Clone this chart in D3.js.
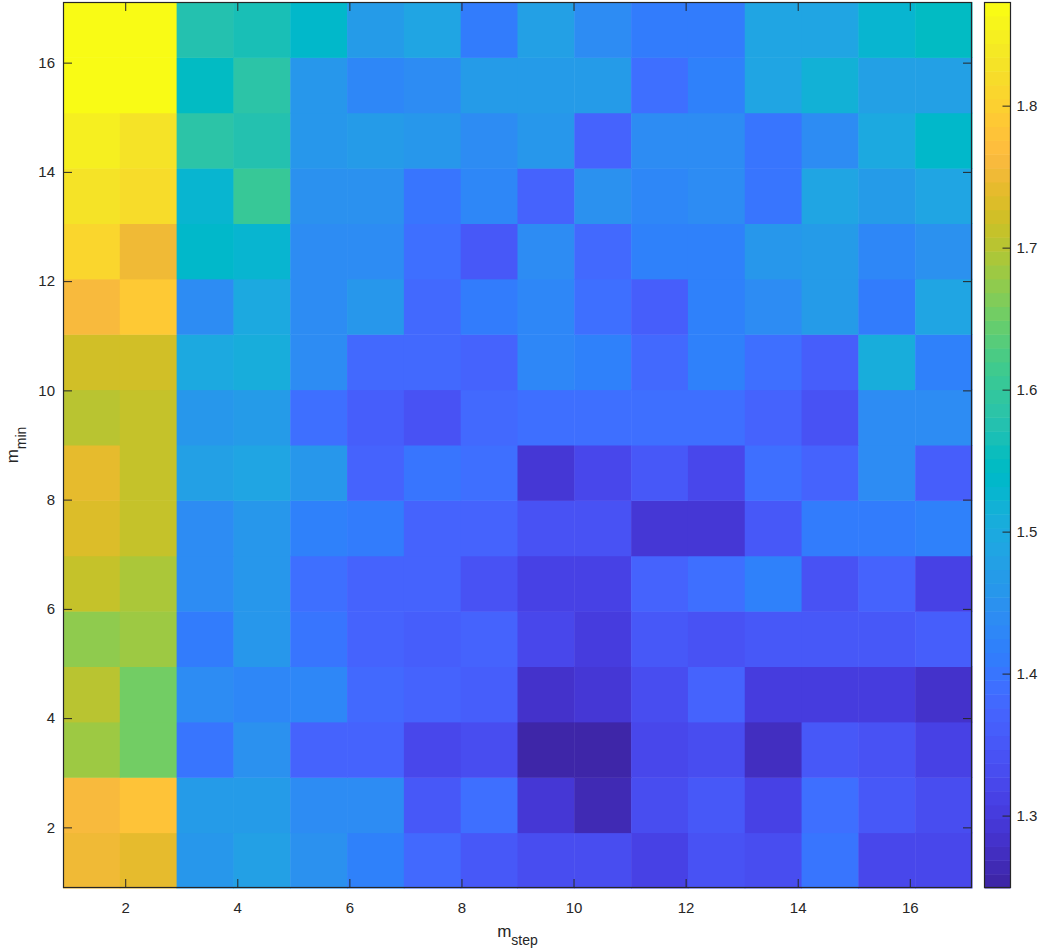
<!DOCTYPE html>
<html>
<head>
<meta charset="utf-8">
<script src="https://cdn.jsdelivr.net/npm/d3@7"></script>
<style>
  body { margin: 0; background: #fff; }
  svg text { font-family: "Liberation Sans", Arial, sans-serif; fill: #262626; }
</style>
</head>
<body>
<svg id="chart" width="1044" height="950"></svg>
<script>
// categories
const mStep = [1, 2, 3, 4, 5, 6, 7, 8, 9, 10, 11, 12, 13, 14, 15, 16];
const mMin = [1, 2, 3, 4, 5, 6, 7, 8, 9, 10, 11, 12, 13, 14, 15, 16];

// one row per m_min (bottom row first), one value per m_step
const values = [
  [1.751, 1.741, 1.459, 1.478, 1.449, 1.420, 1.381, 1.351, 1.332, 1.332, 1.312, 1.342, 1.332, 1.400, 1.322, 1.322],
  [1.761, 1.780, 1.468, 1.468, 1.439, 1.439, 1.351, 1.390, 1.293, 1.264, 1.332, 1.351, 1.312, 1.390, 1.351, 1.332],
  [1.683, 1.654, 1.400, 1.449, 1.371, 1.371, 1.322, 1.332, 1.254, 1.249, 1.322, 1.332, 1.273, 1.351, 1.342, 1.312],
  [1.702, 1.654, 1.439, 1.429, 1.429, 1.381, 1.371, 1.361, 1.283, 1.293, 1.332, 1.371, 1.303, 1.303, 1.303, 1.283],
  [1.673, 1.683, 1.410, 1.459, 1.400, 1.371, 1.361, 1.371, 1.322, 1.303, 1.351, 1.342, 1.351, 1.351, 1.351, 1.361],
  [1.712, 1.693, 1.439, 1.459, 1.390, 1.371, 1.371, 1.342, 1.312, 1.312, 1.371, 1.390, 1.420, 1.342, 1.371, 1.312],
  [1.732, 1.712, 1.439, 1.459, 1.420, 1.410, 1.371, 1.371, 1.342, 1.342, 1.293, 1.293, 1.351, 1.410, 1.410, 1.420],
  [1.741, 1.712, 1.478, 1.488, 1.459, 1.371, 1.400, 1.390, 1.293, 1.322, 1.351, 1.322, 1.390, 1.371, 1.439, 1.361],
  [1.702, 1.712, 1.459, 1.468, 1.390, 1.361, 1.342, 1.381, 1.390, 1.390, 1.390, 1.390, 1.371, 1.342, 1.439, 1.439],
  [1.722, 1.722, 1.498, 1.507, 1.439, 1.381, 1.381, 1.371, 1.429, 1.420, 1.381, 1.420, 1.390, 1.361, 1.507, 1.420],
  [1.761, 1.790, 1.439, 1.498, 1.439, 1.459, 1.381, 1.410, 1.429, 1.390, 1.361, 1.420, 1.439, 1.468, 1.410, 1.488],
  [1.810, 1.751, 1.537, 1.527, 1.439, 1.439, 1.390, 1.351, 1.439, 1.381, 1.420, 1.420, 1.459, 1.468, 1.429, 1.449],
  [1.829, 1.819, 1.527, 1.605, 1.449, 1.449, 1.400, 1.429, 1.371, 1.449, 1.429, 1.439, 1.400, 1.488, 1.468, 1.488],
  [1.849, 1.829, 1.585, 1.576, 1.459, 1.468, 1.459, 1.439, 1.459, 1.371, 1.439, 1.439, 1.400, 1.439, 1.498, 1.537],
  [1.868, 1.868, 1.546, 1.585, 1.459, 1.429, 1.439, 1.468, 1.468, 1.468, 1.390, 1.420, 1.488, 1.517, 1.478, 1.478],
  [1.873, 1.868, 1.576, 1.566, 1.537, 1.468, 1.488, 1.410, 1.478, 1.439, 1.410, 1.410, 1.488, 1.488, 1.527, 1.546]
];

// tick labels
const xTicks = [2, 4, 6, 8, 10, 12, 14, 16];
const yTicks = [2, 4, 6, 8, 10, 12, 14, 16];
const colorTicks = [1.3, 1.4, 1.5, 1.6, 1.7, 1.8];

// parula, 64 levels
const parula = [
  "#3e26a8","#402ab4","#422ec0","#4432cb","#4537d5","#463cde","#4741e5","#4847eb",
  "#484df0","#4852f4","#4758f8","#465efb","#4563fd","#4269fe","#3e6fff","#3875fe",
  "#327cfc","#2f81fa","#2e87f7","#2d8cf3","#2b91ef","#2797eb","#259be8","#23a0e5",
  "#20a5e3","#1ca9e0","#18addb","#12b1d6","#08b5d0","#01b8ca","#02bbc3","#0bbdbd",
  "#19bfb6","#24c1af","#2cc4a7","#31c69f","#37c897","#3fca8e","#4acb84","#57cc7a",
  "#64cd6f","#72cd64","#81cc59","#8fcb4e","#9dc943","#abc739","#b9c431","#c5c22a",
  "#d1bf27","#dcbd29","#e6bb2d","#f0ba36","#f8ba3d","#febe3d","#fec338","#fec934",
  "#fcd030","#fad62d","#f7dc2a","#f5e327","#f5e924","#f6ef20","#f7f51b","#f9fb15"
];

const svg = d3.select("#chart");
const plotLeft = 63, plotRight = 972, plotTop = 2, plotBottom = 888;
const ink = "#262626";

// cells: one band per category
const xBand = d3.scaleBand().domain(mStep).range([plotLeft, plotRight]);
const yBand = d3.scaleBand().domain(mMin).range([plotBottom, plotTop]);
// axis coordinates of the image extent
const x = d3.scaleLinear().domain([0.89, 17.11]).range([plotLeft, plotRight]);
const y = d3.scaleLinear().domain([0.89, 17.11]).range([plotBottom, plotTop]);

const clim = d3.extent(values.flat());
const color = d3.scaleQuantize().domain(clim).range(parula);

const cells = [];
values.forEach((row, i) => row.forEach((v, j) => cells.push({s: mStep[j], m: mMin[i], v})));

svg.append("g").selectAll("rect")
  .data(cells)
  .join("rect")
  .attr("x", d => xBand(d.s))
  .attr("y", d => yBand(d.m))
  .attr("width", xBand.bandwidth() + 0.5)
  .attr("height", yBand.bandwidth() + 0.5)
  .attr("fill", d => color(d.v));

function styleAxis(g) {
  g.select(".domain").remove();
  g.selectAll(".tick line").attr("stroke", ink);
  g.selectAll(".tick text").attr("fill", ink).style("font-size", "15px");
}

svg.append("g")
  .attr("transform", `translate(0,${plotBottom})`)
  .call(d3.axisBottom(x).tickValues(xTicks).tickSizeInner(-9).tickSizeOuter(0).tickPadding(14))
  .call(styleAxis);
svg.append("g")
  .attr("transform", `translate(0,${plotTop})`)
  .call(d3.axisTop(x).tickValues(xTicks).tickFormat("").tickSizeInner(-9).tickSizeOuter(0))
  .call(styleAxis);
svg.append("g")
  .attr("transform", `translate(${plotLeft},0)`)
  .call(d3.axisLeft(y).tickValues(yTicks).tickSizeInner(-9).tickSizeOuter(0).tickPadding(8))
  .call(styleAxis);
svg.append("g")
  .attr("transform", `translate(${plotRight},0)`)
  .call(d3.axisRight(y).tickValues(yTicks).tickFormat("").tickSizeInner(-9).tickSizeOuter(0))
  .call(styleAxis);

svg.append("rect")
  .attr("x", plotLeft + 0.5).attr("y", plotTop + 0.5)
  .attr("width", plotRight - plotLeft - 1).attr("height", plotBottom - plotTop - 1)
  .attr("fill", "none").attr("stroke", ink).attr("stroke-width", 1.2);

// axis labels
const xl = svg.append("text")
  .attr("x", (plotLeft + plotRight) / 2).attr("y", 937)
  .attr("text-anchor", "middle").style("font-size", "17px");
xl.append("tspan").text("m");
xl.append("tspan").attr("dy", 8).style("font-size", "14px").text("step");

const yl = svg.append("text")
  .attr("transform", `translate(18,${(plotTop + plotBottom) / 2}) rotate(-90)`)
  .attr("text-anchor", "middle").style("font-size", "17px");
yl.append("tspan").text("m");
yl.append("tspan").attr("dy", 8).style("font-size", "14px").text("min");

// colorbar
const cbLeft = 984.5, cbWidth = 26;
const cy = d3.scaleLinear().domain(clim).range([plotBottom, plotTop]);

svg.append("g").selectAll("rect")
  .data(parula)
  .join("rect")
  .attr("x", cbLeft)
  .attr("y", c => cy(color.invertExtent(c)[1]))
  .attr("width", cbWidth)
  .attr("height", c => cy(color.invertExtent(c)[0]) - cy(color.invertExtent(c)[1]) + 0.5)
  .attr("fill", c => c);

svg.append("g")
  .attr("transform", `translate(${cbLeft + cbWidth},0)`)
  .call(d3.axisRight(cy).tickValues(colorTicks).tickFormat(d3.format(".1f")).tickSizeInner(-8).tickSizeOuter(0).tickPadding(6))
  .call(styleAxis);

svg.append("rect")
  .attr("x", cbLeft).attr("y", plotTop + 0.5)
  .attr("width", cbWidth).attr("height", plotBottom - plotTop - 1)
  .attr("fill", "none").attr("stroke", ink).attr("stroke-width", 1.2);
</script>
</body>
</html>
